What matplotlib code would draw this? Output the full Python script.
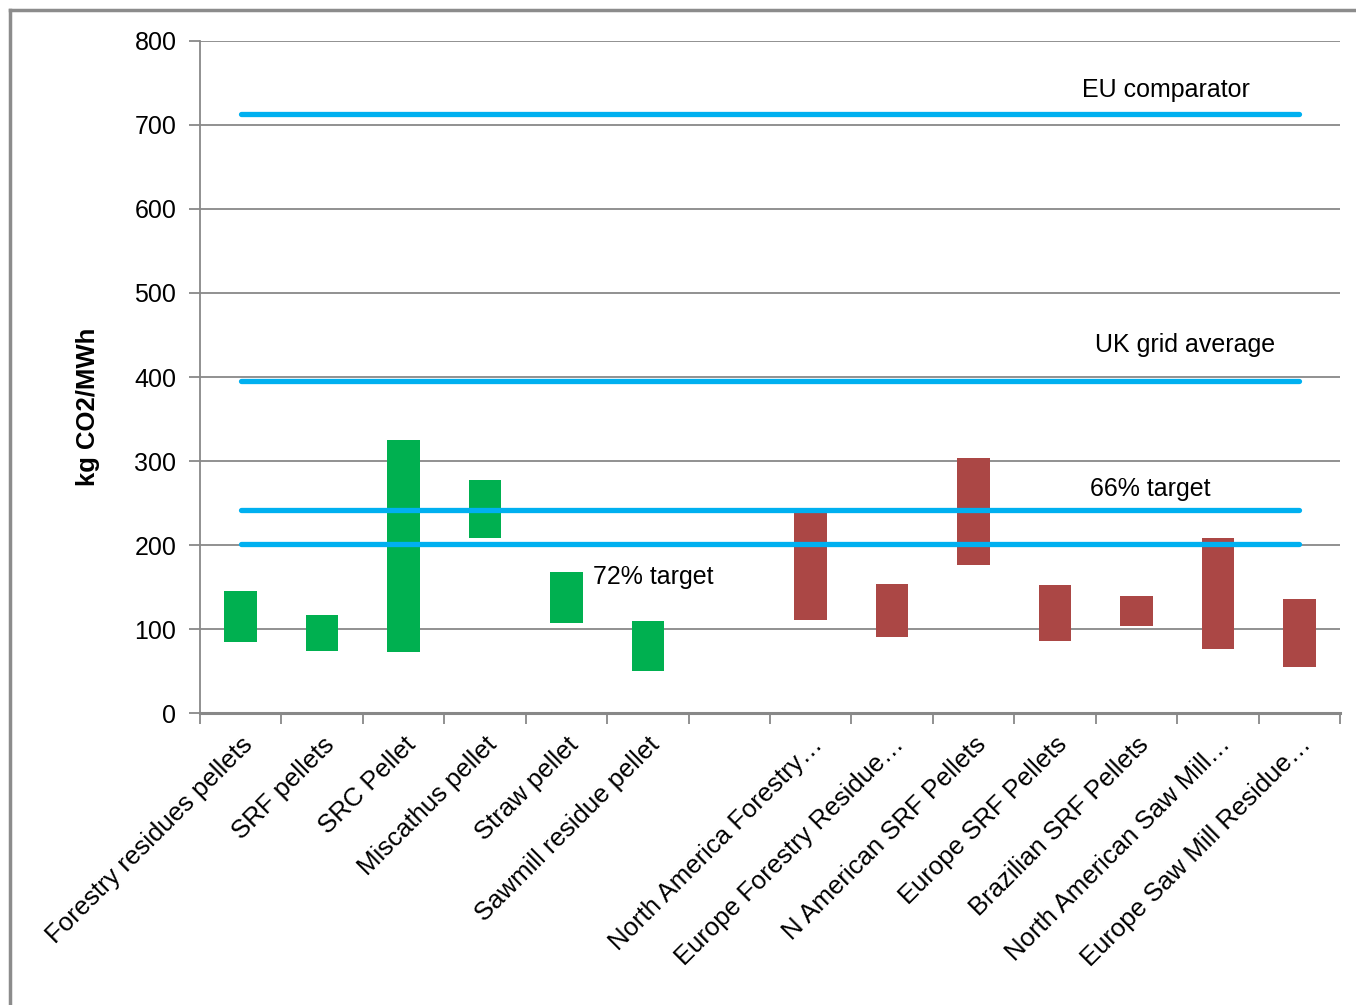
import matplotlib.pyplot as plt
from matplotlib.lines import Line2D
import numpy as np

plt.rcParams['font.family'] = ['Liberation Sans', 'DejaVu Sans']

categories = ["Forestry residues pellets", "SRF pellets", "SRC Pellet", "Miscathus pellet",
              "Straw pellet", "Sawmill residue pellet", "",
              "North America Forestry\u2026", "Europe Forestry Residue\u2026", "N American SRF Pellets",
              "Europe SRF Pellets", "Brazilian SRF Pellets", "North American Saw Mill\u2026",
              "Europe Saw Mill Residue\u2026"]
low = [84, 74, 73, 208, 107, 50, None, 111, 90, 176, 86, 103, 76, 55]
high = [145, 117, 325, 277, 168, 110, None, 240, 153, 304, 152, 139, 208, 136]
group = ["uk", "uk", "uk", "uk", "uk", "uk", None,
         "imp", "imp", "imp", "imp", "imp", "imp", "imp"]

eu_comparator = 713
uk_grid = 395
target_66 = 242
target_72 = 201

colors = {"uk": "#00B050", "imp": "#AB4745"}
line_color = "#00B0F0"
grid_color = "#888888"

fig = plt.figure(figsize=(13.56, 10.05), dpi=100)
ax = fig.add_axes([200/1356, 1 - 713/1005, 1140/1356, 672/1005])

x = np.arange(len(categories))
for i in range(len(categories)):
    if low[i] is None:
        continue
    ax.bar(x[i], high[i] - low[i], bottom=low[i], width=0.4,
           color=colors[group[i]], zorder=2)

for v in [eu_comparator, uk_grid, target_66, target_72]:
    ax.plot([x[0], x[-1]], [v, v], color=line_color, lw=3.8,
            solid_capstyle='round', zorder=3)

# line labels
ax.text(11.36, 742, "EU comparator", fontsize=18, ha='center', va='center', zorder=4)
ax.text(11.6, 438, "UK grid average", fontsize=18, ha='center', va='center', zorder=4)
ax.text(11.17, 267, "66% target", fontsize=18, ha='center', va='center', zorder=4)
ax.text(4.33, 162, "72% target", fontsize=18, ha='left', va='center', zorder=4)

ax.set_xlim(-0.5, len(categories) - 0.5)
ax.set_ylim(0, 800)
ax.set_yticks(np.arange(0, 801, 100))
ax.yaxis.grid(True, color=grid_color, lw=1.3, zorder=0)
ax.set_axisbelow(True)

ax.set_xticks(x)
ax.set_xticklabels(categories, rotation=45, ha='right', rotation_mode='anchor', fontsize=18.5)
ax.set_xticks(np.arange(-0.5, len(categories), 1), minor=True)
ax.tick_params(axis='x', which='major', length=0, pad=14)
ax.tick_params(axis='x', which='minor', length=8, color=grid_color, width=1.3)
ax.tick_params(axis='y', length=8, color=grid_color, width=1.3, labelsize=18, pad=9)

for s in ['top', 'right']:
    ax.spines[s].set_visible(False)
ax.spines['left'].set_color(grid_color)
ax.spines['left'].set_linewidth(1.3)
ax.spines['bottom'].set_color(grid_color)
ax.spines['bottom'].set_linewidth(2.2)

fig.text(88/1356, 1 - 407/1005, "kg CO2/MWh", rotation=90, fontsize=18.5,
         fontweight='bold', ha='center', va='center')

# outer frame (only top and left edge visible)
fig.add_artist(Line2D([10/1356, 10/1356], [0, 1 - 10/1005], color='#8c8c8c', lw=2.5))
fig.add_artist(Line2D([10/1356, 1], [1 - 10/1005, 1 - 10/1005], color='#8c8c8c', lw=2.5))

fig.savefig("out.png", dpi=100)
